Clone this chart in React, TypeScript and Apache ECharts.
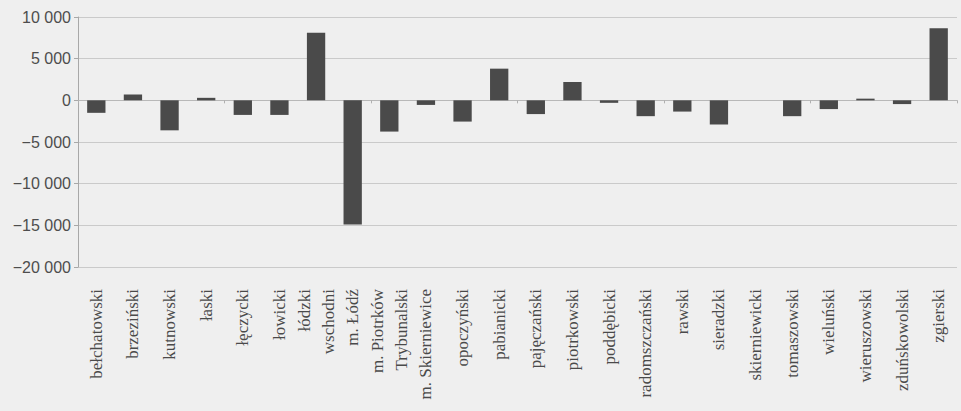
import React, { useEffect, useRef } from "react";
import * as echarts from "echarts";

const categories = [
  "bełchatowski",
  "brzeziński",
  "kutnowski",
  "łaski",
  "łęczycki",
  "łowicki",
  "łódzki\nwschodni",
  "m. Łódź",
  "m. Piotrków\nTrybunalski",
  "m. Skierniewice",
  "opoczyński",
  "pabianicki",
  "pajęczański",
  "piotrkowski",
  "poddębicki",
  "radomszczański",
  "rawski",
  "sieradzki",
  "skierniewicki",
  "tomaszowski",
  "wieluński",
  "wieruszowski",
  "zduńskowolski",
  "zgierski",
];

const values = [
  -1500, 700, -3600, 300, -1750, -1750, 8100, -14900, -3750, -550, -2550, 3800,
  -1650, 2200, -300, -1900, -1350, -2900, 0, -1900, -1050, 200, -450, 8650,
];

const yMin = -20000;
const yMax = 10000;
const yStep = 5000;

function fmt(v: number): string {
  const abs = Math.abs(v);
  const s = abs.toString().replace(/\B(?=(\d{3})+(?!\d))/g, " ");
  return v < 0 ? "\u2212" + s : s;
}

export default function App() {
  const ref = useRef<HTMLDivElement>(null);
  useEffect(() => {
    if (!ref.current) return;
    const chart = echarts.init(ref.current, null, { renderer: "svg" });
    chart.setOption({
      animation: false,
      backgroundColor: "#efefef",
      grid: { left: 78, top: 17, right: 4, bottom: 144, containLabel: false },
      xAxis: [
        {
          type: "category",
          data: categories,
          position: "bottom",
          axisLine: { onZero: true, lineStyle: { color: "#b8b8b8", width: 1 } },
          axisTick: { show: true, length: 3, inside: false, lineStyle: { color: "#b0b0b0" } },
          axisLabel: { show: false },
          splitLine: { show: false },
        },
        {
          type: "category",
          data: categories,
          position: "bottom",
          axisLine: { show: false, onZero: false },
          axisTick: { show: false },
          axisLabel: {
            show: true,
            rotate: 90,
            interval: 0,
            margin: 22,
            fontFamily: "Liberation Serif",
            fontSize: 17,
            lineHeight: 24,
            color: "#4a4a4a",
          },
          splitLine: { show: false },
        },
      ],
      yAxis: {
        type: "value",
        min: yMin,
        max: yMax,
        interval: yStep,
        axisLine: { show: true, lineStyle: { color: "#a8a8a8", width: 1 } },
        axisTick: { show: true, length: 4, lineStyle: { color: "#a8a8a8" } },
        axisLabel: {
          formatter: (v: number) => fmt(v),
          fontFamily: "Liberation Sans",
          fontSize: 16,
          color: "#4d4d4d",
          margin: 7,
        },
        splitLine: { show: true, lineStyle: { color: "#cacaca", width: 1 } },
      },
      series: [
        {
          type: "bar",
          xAxisIndex: 0,
          data: values,
          barWidth: "50%",
          itemStyle: { color: "#4a4a4a" },
        },
      ],
    });
    return () => chart.dispose();
  }, []);
  return (
    <div
      ref={ref}
      style={{ position: "fixed", left: 0, top: 0, width: 961, height: 411 }}
    />
  );
}
